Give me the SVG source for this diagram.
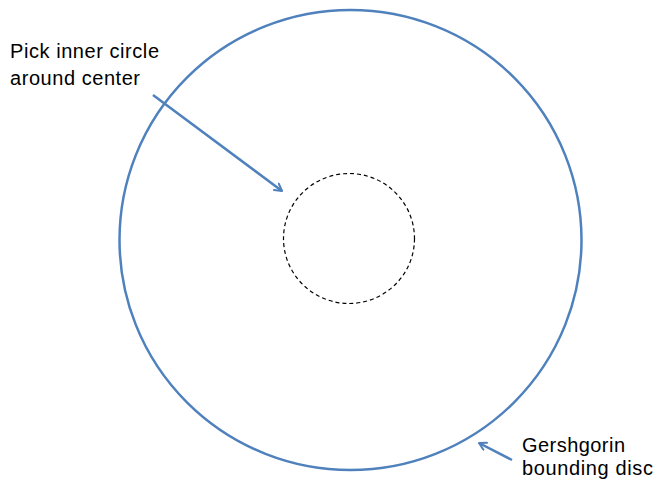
<svg xmlns="http://www.w3.org/2000/svg" width="656" height="482" viewBox="0 0 656 482">
<style>
.lbl{font-family:"Liberation Sans",Arial,sans-serif;font-size:20px;fill:#000}
.conn{stroke:#4f81bd;stroke-width:2.5;fill:none}
</style>
<defs>
<marker id="ah" viewBox="0 0 10 10" refX="8" refY="5" markerWidth="4" markerHeight="4" orient="auto" markerUnits="strokeWidth">
<path d="M1,1 L8,5 L1,9" fill="none" stroke="#4f81bd" stroke-width="2" stroke-linecap="round" stroke-linejoin="round"/>
</marker>
</defs>
<rect width="656" height="482" fill="#fff"/>
<g id="outer-disc">
<ellipse cx="350.5" cy="240" rx="231" ry="230" fill="none" stroke="#4f81bd" stroke-width="2.5"/>
</g>
<g id="inner-circle">
<ellipse cx="349" cy="238.5" rx="65.5" ry="65" fill="none" stroke="#000" stroke-width="1.2" stroke-dasharray="4,3"/>
</g>
<g id="label-pick">
<text class="lbl" x="10" y="58" textLength="149" lengthAdjust="spacing">Pick inner circle</text>
<text class="lbl" x="10" y="85" textLength="130" lengthAdjust="spacing">around center</text>
</g>
<g id="label-gershgorin">
<text class="lbl" x="522" y="452" textLength="103" lengthAdjust="spacing">Gershgorin</text>
<text class="lbl" x="522" y="475" textLength="131" lengthAdjust="spacing">bounding disc</text>
</g>
<g id="connectors">
<line class="conn" x1="153" y1="95" x2="282" y2="191" marker-end="url(#ah)"/>
<line class="conn" x1="512" y1="460" x2="479" y2="443" marker-end="url(#ah)"/>
</g>
</svg>
